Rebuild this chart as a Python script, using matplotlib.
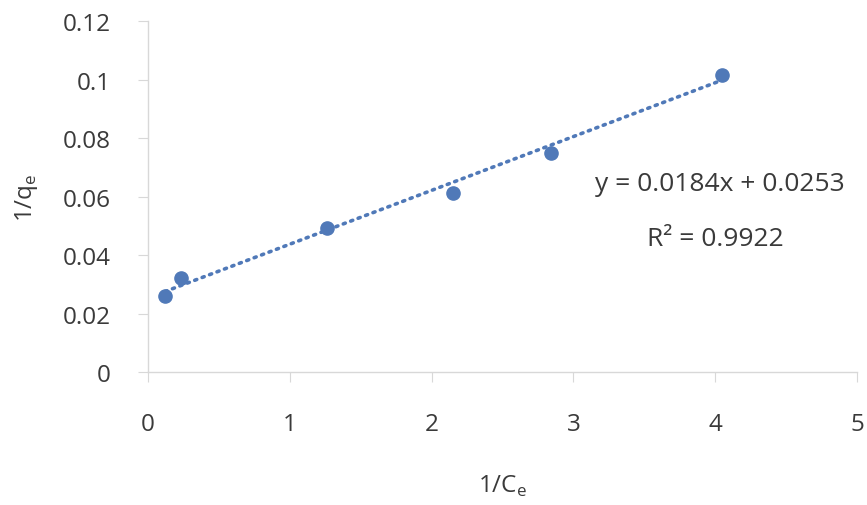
import numpy as np
from matplotlib import pyplot as plt

# Langmuir linear plot: 1/qe against 1/Ce
inv_ce = [0.12, 0.23, 1.26, 2.15, 2.84, 4.05]
inv_qe = [0.026, 0.032, 0.0492, 0.0612, 0.0749, 0.1015]

slope = 0.0184
intercept = 0.0253
r_squared = 0.9922

xticks = [0, 1, 2, 3, 4, 5]
yticks = [0, 0.02, 0.04, 0.06, 0.08, 0.1, 0.12]
ytick_labels = ["0", "0.02", "0.04", "0.06", "0.08", "0.1", "0.12"]

text_color = "#3a3a3a"
axis_color = "#d8d8d8"
point_color = "#5079b8"

plt.rcParams["font.family"] = ["Open Sans", "DejaVu Sans"]

fig = plt.figure(figsize=(8.67, 5.06), dpi=100)
ax = fig.add_axes([0.1707, 0.2628, 0.8178, 0.6937])

# trendline drawn over the fitted range
fit_x = np.array([min(inv_ce), max(inv_ce)])
ax.plot(fit_x, slope * fit_x + intercept, linestyle=(0, (0.6, 1.6)),
        dash_capstyle="round", linewidth=2.6, color=point_color, zorder=2)
ax.plot(inv_ce, inv_qe, linestyle="none", marker="o", markersize=9.5,
        color=point_color, zorder=3, clip_on=False)

ax.set_xlim(0, 5)
ax.set_ylim(0, 0.12)
ax.set_xticks(xticks)
ax.set_yticks(yticks)
ax.set_yticklabels(ytick_labels)

for side in ["top", "right"]:
    ax.spines[side].set_visible(False)
for side in ["left", "bottom"]:
    ax.spines[side].set_color(axis_color)
    ax.spines[side].set_linewidth(1.0)

ax.tick_params(axis="y", direction="out", length=7, width=0.8, color=axis_color,
               labelsize=17.5, labelcolor=text_color, pad=20)
ax.tick_params(axis="x", direction="out", length=7, width=0.8, color=axis_color,
               labelsize=17.5, labelcolor=text_color, pad=22)

ax.set_xlabel("1/C$_\\mathregular{e}$", fontsize=17.5, color=text_color, labelpad=26)
ax.set_ylabel("1/q$_\\mathregular{e}$", fontsize=17.5, color=text_color, labelpad=16)

ax.text(4.03, 0.0643, f"y = {slope}x + {intercept}", fontsize=19,
        color=text_color, ha="center", va="center")
ax.text(4.0, 0.0455, f"R² = {r_squared}", fontsize=19,
        color=text_color, ha="center", va="center")

fig.savefig("out.png", dpi=100)
